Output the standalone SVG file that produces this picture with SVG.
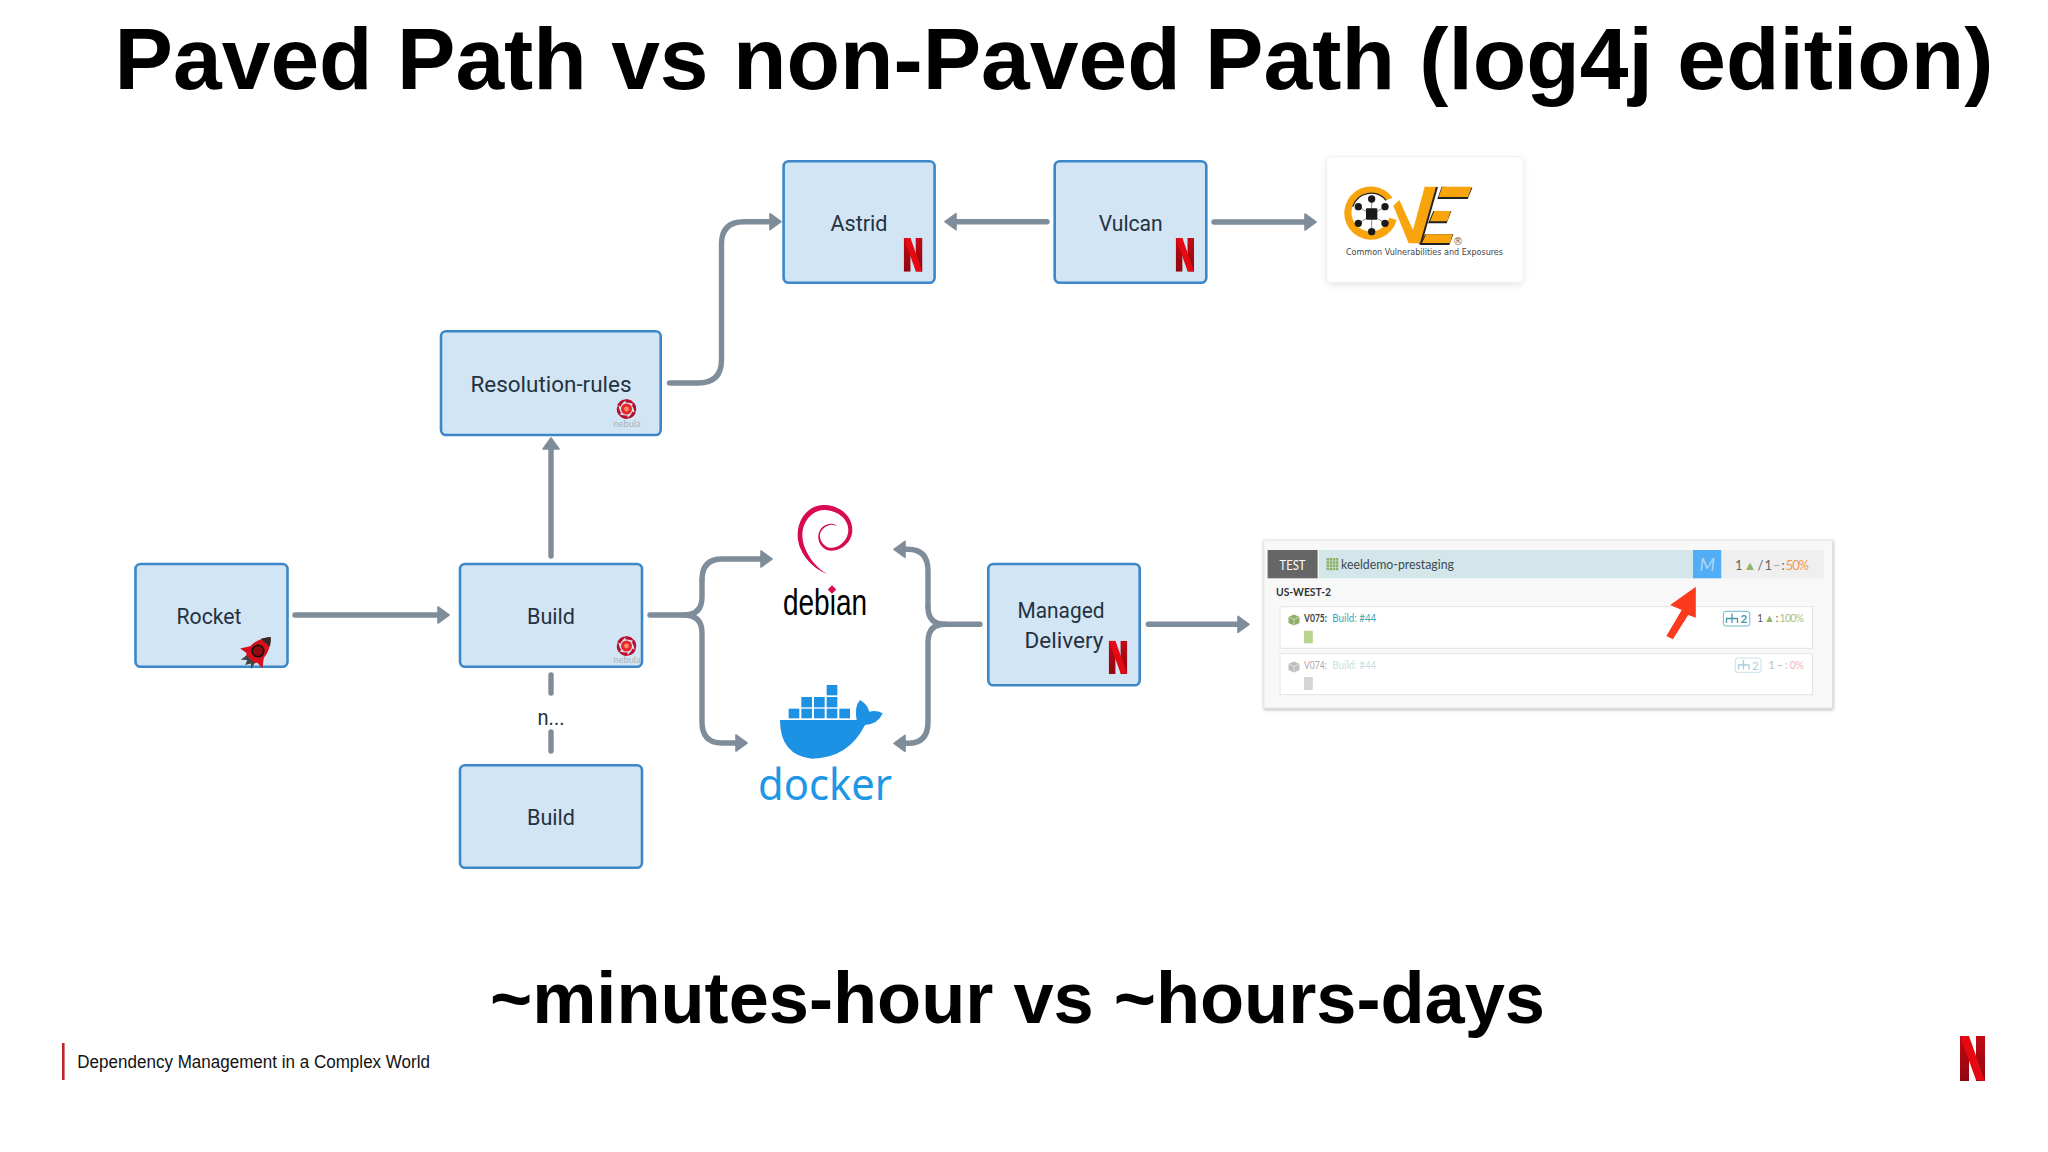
<svg xmlns="http://www.w3.org/2000/svg" width="2048" height="1152" viewBox="0 0 2048 1152">
<style>
.box{fill:#d2e5f5;stroke:#3b87c7;stroke-width:2.6}
.lbl{font-family:Roboto,"Noto Sans",sans-serif;font-size:22px;fill:#25323f;text-anchor:middle}
.con{fill:none;stroke:#7f8c99;stroke-width:5.400;stroke-linecap:round}
.ar{marker-end:url(#ah)}
.h{font-family:"Liberation Sans",Arial,sans-serif;font-weight:bold;fill:#000}
.s{font-family:Lato,"Open Sans",sans-serif}
.neb{font-family:Lato,"Liberation Sans",sans-serif;font-size:9.500px;fill:#a9b3ba;text-anchor:middle}
.row{fill:#fff;stroke:#e4e4e4;stroke-width:1}
</style>
<defs>
<filter id="sh" x="-5%" y="-5%" width="110%" height="112%"><feDropShadow dx="0.500" dy="1.500" stdDeviation="1.500" flood-color="#000" flood-opacity=".28"/></filter>
<filter id="sh2" x="-5%" y="-5%" width="110%" height="112%"><feDropShadow dx="0" dy="2" stdDeviation="3" flood-color="#000" flood-opacity=".10"/></filter>
<marker id="ah" markerUnits="userSpaceOnUse" viewBox="0 0 14 20" markerWidth="14" markerHeight="20" refX="7.500" refY="10" orient="auto">
<path d="M1.500 2 L12.500 10 L1.500 18Z" fill="#7f8c99" stroke="#7f8c99" stroke-width="1.600" stroke-linejoin="round"/>
</marker>
<linearGradient id="nl" x1="0" y1="0" x2="0" y2="1"><stop offset="0" stop-color="#c20a14"/><stop offset="1" stop-color="#8f0710"/></linearGradient>
<symbol id="nf" viewBox="0 0 25 45" preserveAspectRatio="none">
<polygon points="0,0 9,0 9,45 0,45" fill="url(#nl)"/>
<polygon points="16,0 25,0 25,45 16,45" fill="url(#nl)"/>
<polygon points="0,0 9,0 25,45 16,44" fill="#e50914"/>
</symbol>
<path id="pt" d="M-1 -10Q6 -10 8.500 -4Q5 -7 -1 -6.500Z" fill="#b8102c"/>
<g id="nebl">
<use href="#pt"/><use href="#pt" transform="rotate(60)"/><use href="#pt" transform="rotate(120)"/><use href="#pt" transform="rotate(180)"/><use href="#pt" transform="rotate(240)"/><use href="#pt" transform="rotate(300)"/>
<circle r="5.500" fill="#e9262c"/>
<circle r="2.400" fill="#ff8d63"/>
</g>
</defs>
<rect width="2048" height="1152" fill="#fff"/>

<text class="h" x="114.500" y="89" font-size="88" textLength="1879" lengthAdjust="spacingAndGlyphs">Paved Path vs non-Paved Path (log4j edition)</text>
<text class="h" x="490" y="1022.500" font-size="72" textLength="1055" lengthAdjust="spacingAndGlyphs">~minutes-hour vs ~hours-days</text>

<g id="connectors">
<path class="con ar" d="M295 615H444"/>
<path class="con ar" d="M551 556V443"/>
<path class="con" d="M551 675V693M551 732V751"/>
<path class="con ar" d="M669.500 383H698Q721.500 383 721.500 360V244Q721.500 221.700 744 221.700H776"/>
<path class="con ar" d="M1047 221.700H950"/>
<path class="con ar" d="M1214 222H1311"/>
<path class="con" d="M650 615H684Q702 615 702 597V580"/>
<path class="con ar" d="M702 580Q702 559 722 559H767"/>
<path class="con ar" d="M684 615Q702 615 702 633V722Q702 743 722 743H742"/>
<path class="con" d="M980 624.300H945Q928 624.300 928 607"/>
<path class="con ar" d="M928 607V571Q928 549.300 908 549.300H899"/>
<path class="con ar" d="M945 624.300Q928 624.300 928 642V722Q928 743.300 908 743.300H899"/>
<path class="con ar" d="M1148.300 624.300H1244"/>
</g>

<g id="node-rocket">
<rect class="box" x="135.500" y="564" width="152" height="102.700" rx="5"/>
<text class="lbl" x="209" y="623.500" textLength="65" lengthAdjust="spacingAndGlyphs">Rocket</text>
<g transform="translate(258 651) rotate(42)">
<path d="M-5 8L-7 18L-2 14L0 19L3 14L7 18L5 8Z" fill="#444"/>
<path d="M-8 0L-15 10L-6 9ZM8 0L15 10L6 9Z" fill="#d3101c"/>
<path d="M0 -19Q9 -9 9 2Q9 7 6 11H-6Q-9 7 -9 2Q-9 -9 0 -19Z" fill="#d8101c"/>
<path d="M0 -19Q4 -15 6 -11H-6Q-4 -15 0 -19Z" fill="#2a2a2a"/>
<circle cy="0" r="5.800" fill="#8e0b12" stroke="#111" stroke-width="1.600"/>
</g>
</g>

<g id="node-build-1">
<rect class="box" x="460" y="564" width="182" height="102.700" rx="5"/>
<text class="lbl" x="551" y="623.500" textLength="48" lengthAdjust="spacingAndGlyphs">Build</text>
<use href="#nebl" x="626.500" y="646"/>
<text class="neb" x="627" y="663" textLength="27" lengthAdjust="spacingAndGlyphs">nebula</text>
</g>

<g id="label-n"><text class="lbl" x="551" y="724.500" textLength="27" lengthAdjust="spacingAndGlyphs">n...</text></g>

<g id="node-build-2">
<rect class="box" x="460" y="765.300" width="182" height="102.500" rx="5"/>
<text class="lbl" x="551" y="824.800" textLength="48" lengthAdjust="spacingAndGlyphs">Build</text>
</g>

<g id="node-resolution-rules">
<rect class="box" x="441" y="331.300" width="219.700" height="103.700" rx="5"/>
<text class="lbl" x="551" y="391.500" textLength="161" lengthAdjust="spacingAndGlyphs">Resolution-rules</text>
<use href="#nebl" x="626.500" y="409"/>
<text class="neb" x="627" y="426.500" textLength="27" lengthAdjust="spacingAndGlyphs">nebula</text>
</g>

<g id="node-astrid">
<rect class="box" x="783.600" y="161.300" width="151" height="121.400" rx="5"/>
<text class="lbl" x="859" y="230.500" textLength="57" lengthAdjust="spacingAndGlyphs">Astrid</text>
<use href="#nf" x="903.700" y="238" width="18.800" height="33.700"/>
</g>

<g id="node-vulcan">
<rect class="box" x="1054.700" y="161.300" width="151.600" height="121.400" rx="5"/>
<text class="lbl" x="1130.700" y="230.500" textLength="64" lengthAdjust="spacingAndGlyphs">Vulcan</text>
<use href="#nf" x="1175.700" y="238" width="18.500" height="33.700"/>
</g>

<g id="node-cve">
<rect x="1326.700" y="156.700" width="196.300" height="125.700" rx="4" fill="#fff" stroke="#efefef" stroke-width="1" filter="url(#sh2)"/>
<g transform="translate(1340 175) scale(.33333)">
<path d="M158 68A80 80 0 1 0 170 135L148 128A58 58 0 1 1 138 76Z" fill="#f9a40d"/>
<path d="M138 76A58 58 0 0 0 38 95" fill="none" stroke="#222" stroke-width="4"/>
<g stroke="#555" stroke-width="2"><path d="M95 72V170M55 95L135 145M135 95L55 145"/></g>
<g fill="#1a1a1a"><rect x="78" y="100" width="34" height="34" rx="3"/><circle cx="95" cy="72" r="11"/><circle cx="135" cy="95" r="11"/><circle cx="135" cy="145" r="11"/><circle cx="95" cy="170" r="11"/><circle cx="55" cy="145" r="11"/><circle cx="55" cy="95" r="11"/></g>
<polygon points="294,36 245,208 236,208 285,36" fill="#222"/>
<polygon points="254,35 288,35 240,205 206,205 160,92 178,75 219,165" fill="#f9a40d"/>
<polygon points="305,35 397,38 383,72 292,72" fill="#222"/>
<polygon points="307,35 395,35 384,66 296,66" fill="#f9a40d"/>
<polygon points="280,108 334,108 320,145 264,145" fill="#222"/>
<polygon points="283,108 332,108 322,139 270,139" fill="#f9a40d"/>
<polygon points="255,178 340,178 328,210 240,210" fill="#222"/>
<polygon points="258,178 338,178 330,204 246,204" fill="#f9a40d"/>
</g>
<text x="1346" y="255" font-family="'DejaVu Sans',sans-serif" font-size="9" fill="#444" textLength="157" lengthAdjust="spacingAndGlyphs">Common Vulnerabilities and Exposures</text>
<text x="1458" y="245" font-family="'DejaVu Sans',sans-serif" font-size="10" fill="#666" text-anchor="middle">®</text>
</g>

<g id="node-debian">
<g transform="translate(780 500) scale(.33333)">
<path d="M145 223C90 205 50 150 53 100C55 55 85 17 128 15C175 13 217 45 217 90C217 125 185 152 155 152C130 152 113 130 115 107C117 85 135 70 155 71C162 71 168 74 170 78C160 74 150 73 143 77C128 83 118 97 120 110C122 130 140 146 158 143C185 140 205 115 205 90C205 55 170 30 130 30C95 32 68 65 67 105C67 150 105 205 145 223Z" fill="#d70a53"/>
</g>
<text x="783" y="615" font-family="Liberation Sans,sans-serif" font-size="37" fill="#000" textLength="84" lengthAdjust="spacingAndGlyphs">debian</text>
<rect x="829" y="586.500" width="6" height="6" fill="#d70a53" transform="rotate(45 832 589.500)"/>
</g>

<g id="node-docker">
<g transform="translate(740 490) scale(.33333)" fill="#1d91e4">
<rect x="260" y="585" width="32" height="31"/>
<rect x="184" y="621" width="32" height="31"/><rect x="222" y="621" width="32" height="31"/><rect x="260" y="621" width="32" height="31"/>
<rect x="146" y="656" width="32" height="29"/><rect x="184" y="656" width="32" height="29"/><rect x="222" y="656" width="32" height="29"/><rect x="260" y="656" width="32" height="29"/><rect x="298" y="656" width="32" height="29"/>
<path d="M120 690H350Q342 650 360 630Q382 642 388 665Q410 660 428 670Q415 702 375 705Q325 805 215 806Q120 795 120 690Z"/>
</g>
<text x="758" y="800" font-family="'Noto Sans',Lato,sans-serif" font-size="44" fill="#1d97e6" textLength="134" lengthAdjust="spacingAndGlyphs">docker</text>
</g>

<g id="node-managed-delivery">
<rect class="box" x="988.300" y="564" width="151.400" height="121.300" rx="5"/>
<text class="lbl" x="1061" y="618" textLength="87" lengthAdjust="spacingAndGlyphs">Managed</text>
<text class="lbl" x="1064" y="648" textLength="79" lengthAdjust="spacingAndGlyphs">Delivery</text>
<use href="#nf" x="1108.700" y="640.700" width="18.600" height="33.300"/>
</g>

<g id="node-screenshot">
<rect x="1263.800" y="540" width="568.700" height="168" fill="#f8f8f8" stroke="#e2e2e2" stroke-width="1" filter="url(#sh)"/>
<rect x="1267.600" y="550" width="50" height="28.300" fill="#666"/>
<rect x="1319" y="550" width="374" height="28.300" fill="#d3e6ea"/>
<rect x="1693" y="550" width="28.500" height="28.300" fill="#51adf6"/>
<rect x="1721.500" y="550" width="102.500" height="28.300" fill="#efefef"/>
<text class="s" x="1292.500" y="570" font-size="13" fill="#fff" text-anchor="middle" textLength="26" lengthAdjust="spacingAndGlyphs">TEST</text>
<g fill="#8fb36a"><rect x="1326.500" y="558" width="2.600" height="2.600"/><rect x="1329.600" y="558" width="2.600" height="2.600"/><rect x="1332.700" y="558" width="2.600" height="2.600"/><rect x="1335.800" y="558" width="2.600" height="2.600"/><rect x="1326.500" y="561.200" width="2.600" height="2.600"/><rect x="1329.600" y="561.200" width="2.600" height="2.600"/><rect x="1332.700" y="561.200" width="2.600" height="2.600"/><rect x="1335.800" y="561.200" width="2.600" height="2.600"/><rect x="1326.500" y="564.400" width="2.600" height="2.600"/><rect x="1329.600" y="564.400" width="2.600" height="2.600"/><rect x="1332.700" y="564.400" width="2.600" height="2.600"/><rect x="1335.800" y="564.400" width="2.600" height="2.600"/><rect x="1326.500" y="567.600" width="2.600" height="2.600"/><rect x="1329.600" y="567.600" width="2.600" height="2.600"/><rect x="1332.700" y="567.600" width="2.600" height="2.600"/><rect x="1335.800" y="567.600" width="2.600" height="2.600"/></g>
<text class="s" x="1341" y="569" font-size="14" fill="#3d4a52" textLength="113" lengthAdjust="spacingAndGlyphs">keeldemo-prestaging</text>
<text class="s" x="1707.200" y="571" font-size="18" fill="#a9d8fb" font-style="italic" text-anchor="middle">M</text>
<text class="s" x="1735" y="570" font-size="13" fill="#666" textLength="74" lengthAdjust="spacing"><tspan>1 </tspan><tspan fill="#8fb36a">▲</tspan><tspan> / 1 </tspan><tspan fill="#aaa">−</tspan><tspan> : </tspan><tspan fill="#ef9a4c">50%</tspan></text>
<text class="s" x="1276" y="596" font-size="12" font-weight="bold" fill="#333" textLength="55" lengthAdjust="spacingAndGlyphs">US-WEST-2</text>

<rect class="row" x="1280" y="606.700" width="532.600" height="41.600"/>
<polygon points="1294,614.500 1299.500,617 1299.500,623 1294,625.500 1288.500,623 1288.500,617" fill="#8fae6b"/>
<path d="M1288.500 617L1294 619.500L1299.500 617M1294 619.500V625.500" fill="none" stroke="#dbe7cc" stroke-width=".8"/>
<text class="s" x="1304" y="622" font-size="10.500" font-weight="bold" fill="#444" textLength="23" lengthAdjust="spacingAndGlyphs">V075:</text>
<text class="s" x="1332.300" y="622" font-size="11" fill="#3ba6b8" textLength="44" lengthAdjust="spacingAndGlyphs">Build: #44</text>
<rect x="1304" y="630.700" width="8.800" height="12.600" fill="#b8d48f"/>
<rect x="1723.400" y="611.300" width="26.400" height="14.700" rx="2.500" fill="#fff" stroke="#6cb6c9" stroke-width="1"/>
<path d="M1732 613.500V618M1726.500 623V618.500H1737.500V623M1732 618.500V623" fill="none" stroke="#4a97ab" stroke-width="1.300"/>
<text class="s" x="1740.500" y="623" font-size="11.500" font-weight="bold" fill="#4a97ab">2</text>
<text class="s" x="1757" y="622" font-size="10.500" fill="#555" textLength="47" lengthAdjust="spacing"><tspan>1 </tspan><tspan fill="#8fb36a">▲</tspan><tspan> : </tspan><tspan fill="#a5c285">100%</tspan></text>

<rect class="row" x="1280" y="653.700" width="532.600" height="41"/>
<polygon points="1294,661.500 1299.500,664 1299.500,670 1294,672.500 1288.500,670 1288.500,664" fill="#bdbdbd"/>
<path d="M1288.500 664L1294 666.500L1299.500 664M1294 666.500V672.500" fill="none" stroke="#eee" stroke-width=".8"/>
<text class="s" x="1304" y="669" font-size="10.500" fill="#aaa" textLength="23" lengthAdjust="spacingAndGlyphs">V074:</text>
<text class="s" x="1332.300" y="669" font-size="11" fill="#c5dfe5" textLength="44" lengthAdjust="spacingAndGlyphs">Build: #44</text>
<rect x="1304" y="677" width="8.800" height="13" fill="#d5d5d5"/>
<rect x="1735.300" y="658" width="25.700" height="14.300" rx="2.500" fill="#fff" stroke="#c5e0e8" stroke-width="1"/>
<path d="M1743.500 660V664.500M1738.500 669.500V665H1749V669.500M1743.500 665V669.500" fill="none" stroke="#a9cdd8" stroke-width="1.300"/>
<text class="s" x="1752" y="669.500" font-size="11.500" fill="#a9cdd8">2</text>
<text class="s" x="1768.500" y="669" font-size="10.500" fill="#bbb" textLength="35.500" lengthAdjust="spacing"><tspan>1 − : </tspan><tspan fill="#ecb8c0">0%</tspan></text>

<polygon points="1695.800,586.700 1670.200,605 1681.700,610 1666.400,636 1672.900,639.300 1688.200,615 1695.800,617.700" fill="#fb3a1e"/>
</g>

<g id="footer">
<rect x="62" y="1043" width="2.600" height="37" fill="#c1262b"/>
<text x="77.300" y="1068" font-family="Liberation Sans,Arial,sans-serif" font-size="17.500" fill="#111" textLength="352.700" lengthAdjust="spacingAndGlyphs">Dependency Management in a Complex World</text>
<use href="#nf" x="1960" y="1036" width="25" height="45"/>
</g>
</svg>
